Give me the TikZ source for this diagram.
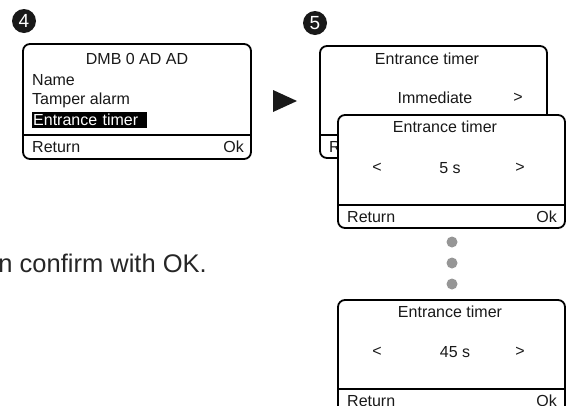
\documentclass[tikz,border=0pt]{standalone}
\usepackage{fontspec}
\setmainfont{Liberation Sans}
\begin{document}
\begin{tikzpicture}[x=1pt,y=-1pt,
  screen/.style={draw, line width=1.8pt, rounded corners=7pt, fill=white, inner sep=0pt, outer sep=0pt, anchor=north west},
  txt/.style={font=\fontsize{16}{16}\selectfont, inner sep=0pt, text=black!90},
  sep/.style={line width=1.5pt},
  stepnum/.style={circle, fill=black!90, text=white, inner sep=0pt, minimum size=24pt, font=\fontsize{19}{19}\selectfont},
  dotmark/.style={circle, fill={rgb,255:red,150;green,150;blue,150}, inner sep=0pt, minimum size=11pt}]
\useasboundingbox (0,0) rectangle (568,405);
\clip (0,0) rectangle (568,405);

% step 4
\node[stepnum] (n4) at (24,21) {4};
\node[screen, minimum width=228pt, minimum height=115pt] (b4) at (23,44) {};
\coordinate (s4a) at (23,135); \coordinate (s4b) at (251,135);
\draw[sep] (s4a) -- (s4b);
\node[txt] (t4) at (137,59) {DMB 0 AD AD};
\node[txt, anchor=west] (name) at (32,80) {Name};
\node[txt, anchor=west] (tamper) at (32,100) {Tamper alarm};
\node[txt, anchor=west, fill=black, text=white, minimum height=16pt, inner xsep=1pt, text width=113pt] (entr) at (32,120) {Entrance timer};
\node[txt, anchor=west] (r4) at (32,147) {Return};
\node[txt, anchor=east] (ok4) at (244,147) {Ok};

% arrow
\fill[black!90] (273,90) -- (273,112) -- (297,101) -- cycle;

% step 5 back screen
\node[stepnum] (n5) at (315,23) {5};
\node[screen, minimum width=227pt, minimum height=112pt] (b5) at (320,46) {};
\coordinate (s5a) at (320,135); \coordinate (s5b) at (547,135);
\draw[sep] (s5a) -- (s5b);
\node[txt] (t5) at (427,59) {Entrance timer};
\node[txt] (imm) at (435,98) {Immediate};
\node[txt] (gt5) at (518,98) {>};
\node[txt, anchor=west] (r5) at (329,147) {Return};

% front screen 5 s
\node[screen, minimum width=227pt, minimum height=113pt] (b6) at (338,115) {};
\coordinate (s6a) at (338,205); \coordinate (s6b) at (565,205);
\draw[sep] (s6a) -- (s6b);
\node[txt] (t6) at (445,127) {Entrance timer};
\node[txt] (lt6) at (377,168) {<};
\node[txt] (v6) at (450,168) {5 s};
\node[txt] (gt6) at (520,168) {>};
\node[txt, anchor=west] (r6) at (347,217) {Return};
\node[txt, anchor=east] (ok6) at (557,217) {Ok};

% dots
\node[dotmark] (d1) at (452,242) {};
\node[dotmark] (d2) at (452,263) {};
\node[dotmark] (d3) at (452,284) {};

% bottom screen 45 s
\node[screen, minimum width=227pt, minimum height=113pt] (b7) at (338,300) {};
\coordinate (s7a) at (338,389); \coordinate (s7b) at (565,389);
\draw[sep] (s7a) -- (s7b);
\node[txt] (t7) at (450,312) {Entrance timer};
\node[txt] (lt7) at (377,352) {<};
\node[txt] (v7) at (455,352) {45 s};
\node[txt] (gt7) at (520,352) {>};
\node[txt, anchor=west] (r7) at (347,401) {Return};
\node[txt, anchor=east] (ok7) at (557,401) {Ok};

% sentence fragment
\node[font=\fontsize{25.5}{25.5}\selectfont, inner sep=0pt, anchor=east, text=black!85] (sent) at (207,263) {n confirm with OK.};
\end{tikzpicture}
\end{document}
